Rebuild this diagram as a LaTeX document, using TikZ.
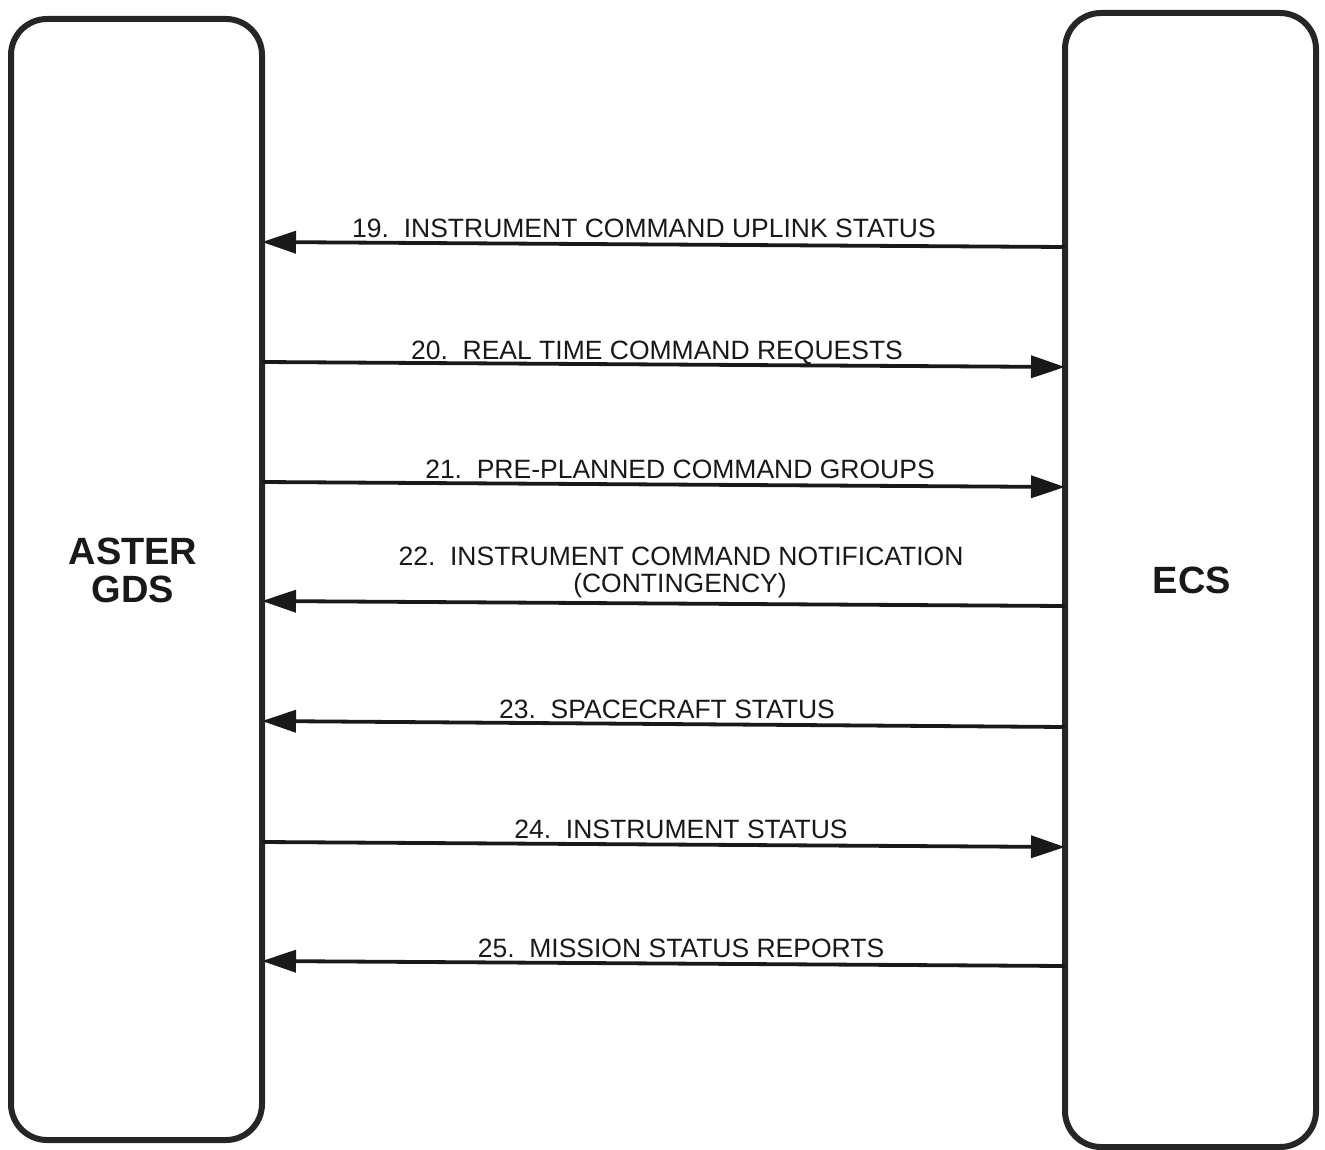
\documentclass[tikz,border=0pt]{standalone}
\usepackage{fontspec}
\setmainfont{Liberation Sans}
\usetikzlibrary{arrows.meta}
\begin{document}
\begin{tikzpicture}[x=1pt,y=-1pt,
  sysbox/.style={draw=black!85,line width=6pt,rounded corners=36pt,outer sep=0pt,inner sep=0pt},
  systext/.style={font=\fontsize{38}{38}\selectfont\bfseries,align=center,text=black!90},
  flow/.style={line width=3.8pt,draw=black!90,-{Triangle[length=34pt,width=22pt]}},
  lbl/.style={font=\fontsize{26.5}{29}\selectfont,align=center,inner sep=0pt,anchor=base,text=black!90}]
\useasboundingbox (0,0) rectangle (1325,1150);
\node[sysbox,minimum width=251pt,minimum height=1121pt] (gds) at (136.5,579.5) {};
\node[sysbox,minimum width=251pt,minimum height=1134pt] (ecs) at (1190.5,580) {};
\node[systext] (gdst) at (133,570) {ASTER\\GDS};
\node[systext] (ecst) at (1192,580) {ECS};
% flows
\draw[flow] (ecs.west |- 0,247) -- (gds.east |- 0,242);
\draw[flow] (gds.east |- 0,362) -- (ecs.west |- 0,367);
\draw[flow] (gds.east |- 0,482) -- (ecs.west |- 0,487);
\draw[flow] (ecs.west |- 0,606) -- (gds.east |- 0,601);
\draw[flow] (ecs.west |- 0,727) -- (gds.east |- 0,721);
\draw[flow] (gds.east |- 0,842) -- (ecs.west |- 0,847);
\draw[flow] (ecs.west |- 0,966) -- (gds.east |- 0,961);
% labels
\node[lbl] (l19) at (644,238) {19.\ \ INSTRUMENT COMMAND UPLINK STATUS};
\node[lbl] (l20) at (657,359) {20.\ \ REAL TIME COMMAND REQUESTS};
\node[lbl] (l21) at (680,478) {21.\ \ PRE-PLANNED COMMAND GROUPS};
\node[lbl] (l22) at (681,565) {22.\ \ INSTRUMENT COMMAND NOTIFICATION};
\node[lbl] (l22b) at (680,592) {(CONTINGENCY)};
\node[lbl] (l23) at (667,718) {23.\ \ SPACECRAFT STATUS};
\node[lbl] (l24) at (681,838) {24.\ \ INSTRUMENT STATUS};
\node[lbl] (l25) at (681,957) {25.\ \ MISSION STATUS REPORTS};
\end{tikzpicture}
\end{document}
